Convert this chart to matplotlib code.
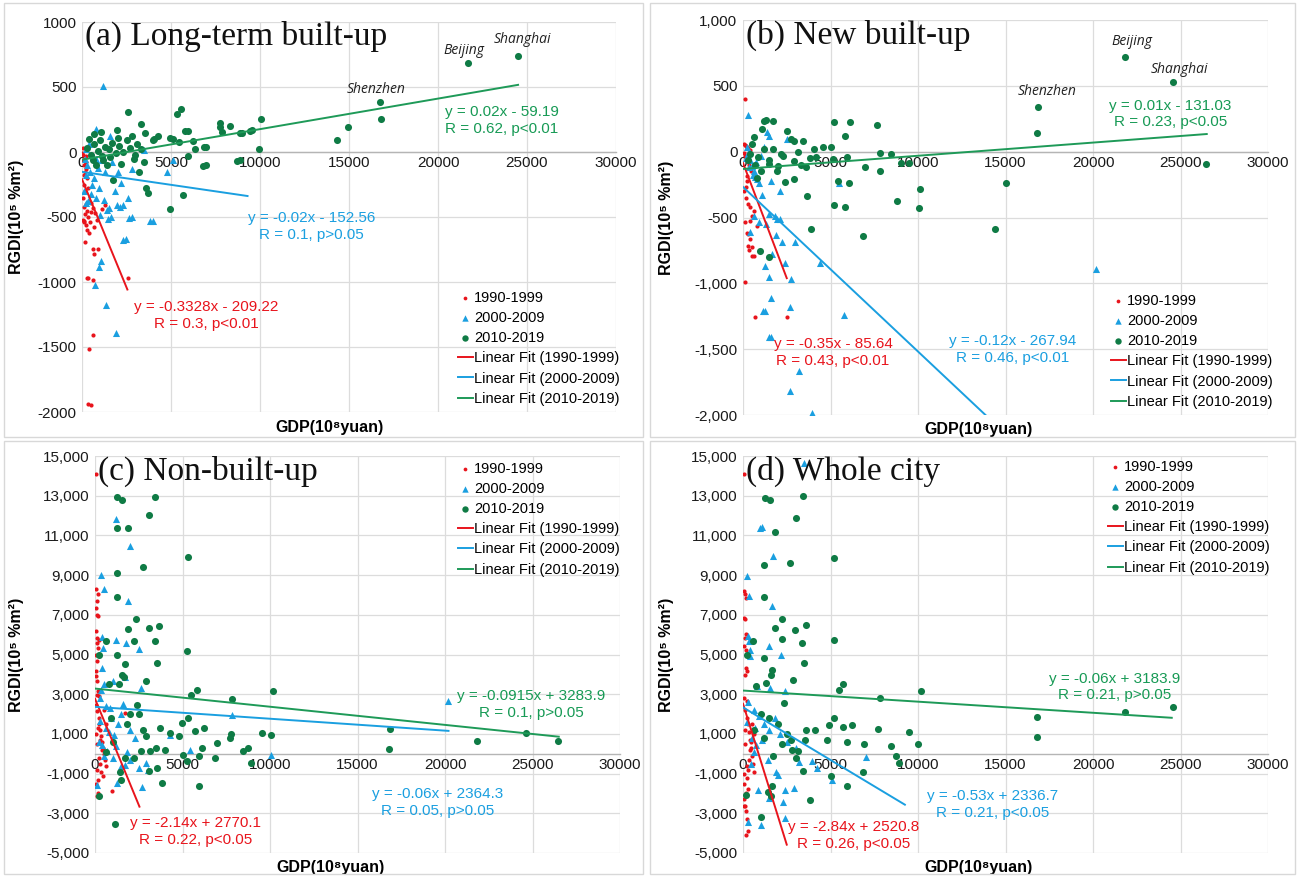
import matplotlib
matplotlib.use("Agg")
import matplotlib.pyplot as plt
from matplotlib.ticker import FuncFormatter
from matplotlib.patches import Rectangle

plt.rcParams['font.family'] = ['Liberation Sans', 'DejaVu Sans']

# ---------------- data ----------------
periods = ["1990-1999", "2000-2009", "2010-2019"]
fit_labels = ["Linear Fit (1990-1999)", "Linear Fit (2000-2009)", "Linear Fit (2010-2019)"]
titles = ["(a) Long-term built-up", "(b) New built-up", "(c) Non-built-up", "(d) Whole city"]

# Panel a: long-term built-up
a_red_x = [20,40,50,80,90,120,150,200,220,250,300,100,180,350,60,250,400,120,300,500,150,350,600,80,450,200,650,300,100,750,1290,1100,400,169,635,916,674,264,354,635,2600,601,410,354,489,112,500,850]
a_red_y = [-5,30,-20,-60,-180,-100,-150,-30,-130,-80,-200,-250,-300,-280,-350,-400,-380,-420,-450,-460,-480,-500,-430,-520,-540,-560,-580,-600,-540,-470,-409,-440,-620,-695,-745,-745,-788,-973,-968,-985,-970,-1407,-1516,-1938,-1943,-528,-390,-520]
a_blue_x = [1200,744,1047,930,1350,1930,2280,2630,3840,2560,1980,1400,1465,2210,1860,1230,930,350,230,814,5120,3490,2790,814,1011,1630,2136,2323,1500,2473,4007,2790,150,300,450,600,200,700,900,1100,400,1300,550,250,100,800,1700,2000,1600,500,4800]
a_blue_y = [505,-1025,-835,-885,-1176,-1391,-678,-506,-531,-354,-405,-443,-519,-240,-303,-367,-278,-380,-392,-354,-63,13,-134,177,-485,-503,-422,-409,-430,-669,-528,-498,-50,-100,-150,-30,20,-200,-120,-60,60,-150,-250,-180,-300,-50,-80,-150,120,-320,-150]
a_green_x = [24500,21700,16750,16800,14950,14300,10070,9930,9420,8860,8700,8330,7740,7740,7840,6860,6790,5930,5930,5700,5550,5310,4950,5120,5470,4070,3720,3610,3330,2600,1980,1050,700,1400,1740,4000,3530,4280,4970,5800,6250,6340,6990,9010,9560,6960,8860,300,500,700,900,1100,1300,1500,1700,1900,2100,2300,2500,2700,2900,3100,3300,3500,600,1000,1600,2200,400,800,1200,2000,2800,3000,3200]
a_green_y = [741,683,385,253,192,91,253,25,164,144,-71,202,223,190,152,38,-109,164,-30,-329,329,291,-435,101,76,101,-316,-278,215,306,172,152,139,-101,-215,96,147,121,109,164,83,20,38,147,167,-101,-63,30,-20,60,10,-30,40,20,70,-10,50,0,90,30,-50,60,20,-80,-60,90,-40,-90,100,-100,-60,110,120,-20,-150]

# Panel b: new built-up
b_red_x = [95,60,95,710,2490,300,520,290,365,235,137,420,520,800,95,235,160,300,400,235,165,280,400,280,400,520,640,60,120,200,350,450,30,180,250,600]
b_red_y = [400,60,-992,-1252,-1252,-80,-789,-713,-746,-620,-537,-422,-486,-562,53,33,40,25,10,-182,-270,-397,-524,-625,-664,-726,-789,-10,-30,-60,-100,-150,-300,-350,-220,-450]
b_blue_x = [20190,3960,2700,3200,1470,1620,5750,1130,1240,2710,1620,1510,2770,1240,2380,1660,4420,2950,2230,1890,420,1320,900,610,1470,1950,280,1380,1470,1180,230,300,400,500,600,700,800,900,2520,1620,2140,5470,1850,2140,150,350,550,750,1000,1100]
b_blue_y = [-890,-1984,-1814,-1667,-1409,-1409,-1237,-1207,-1207,-1181,-1114,-949,-966,-865,-845,-777,-845,-688,-683,-632,-607,-549,-537,-486,-473,-511,279,146,121,33,33,-10,-60,-110,-150,-190,-210,-240,96,-220,-296,-238,-486,-508,-50,-120,-180,-80,-30,-330]
b_green_x = [21850,24570,16870,16820,26470,15020,14410,10120,10050,8820,9480,9000,8460,7800,7800,7680,6990,6870,6090,5800,6040,5800,5210,5210,5450,5970,5140,5020,3890,3650,3440,2890,2540,2770,1710,1180,1300,950,1470,1110,2890,2420,1940,880,1710,2180,3130,4080,520,3600,4190,1470,400,2890,640,4550,300,700,1000,1500,2000,2300,3300,3800,1200,800]
b_green_y = [716,526,342,139,-94,-240,-590,-283,-428,-372,-89,-89,-18,-13,-144,202,-119,-640,223,121,-240,-417,-402,223,-220,-43,-56,33,-587,-334,83,83,159,96,235,235,240,-751,-802,172,-207,-233,-144,-43,20,-18,-5,20,58,-119,-43,-94,-18,-68,109,33,-60,-100,-150,-60,-110,-30,-100,-50,20,-200]

# Panel c: non-built-up
c_red_x = [50,60,170,120,40,100,170,60,120,200,100,160,50,130,70,40,140,180,90,250,1710,950,150,120,160,50,100,200,250,300,350,400,450,500,550,600,80,140,220,280,330,380,440,30,110,190,260,520,650]
c_red_y = [14080,8280,8030,7690,7350,7000,6950,6180,5840,5750,5580,5340,5000,4660,4160,3910,3660,3150,2980,2900,2030,-1860,-1980,-2140,-1300,2480,2140,1800,1500,1200,900,600,300,0,-300,-600,1000,500,-200,-500,-900,200,-1100,-1500,-800,1300,700,2200,1500]
c_blue_x = [20190,7820,10050,5430,1180,2010,330,520,1870,2490,1780,1180,400,470,400,1000,520,2650,1710,880,1470,280,640,1110,400,710,1000,1230,2700,120,1710,1990,2890,4310,300,600,900,1300,1600,2000,2300,200,500,800,1200,1500,1800,2500,3000,350]
c_blue_y = [2650,1970,-40,210,11840,10460,9000,8280,7690,5300,5590,5710,5870,5340,4330,3650,3490,3320,3860,2310,1980,1640,1300,960,460,130,-210,-1470,-1690,-1550,-550,-290,-460,960,2800,2400,1800,1500,2500,1200,800,600,-100,1100,400,-600,100,-700,-800,3200]
c_green_x = [1280,1540,3440,3060,1230,1900,5310,2730,1280,1230,2350,3060,3670,1900,2250,3410,640,240,1230,5260,3550,1710,1520,1660,2940,810,1350,5800,5500,10190,7820,16870,16820,21850,24640,26470,9530,10070,8770,8480,7750,7700,6990,6870,6090,6210,5730,5970,5260,5020,4950,5310,4790,4270,3720,4000,3480,3550,3840,3060,3130,2770,2890,2650,2540,2420,5970,1160,240,1470,1710,8930,1000,1800,2000,2200,600,900,1400]
c_green_y = [12950,12760,12950,12030,11390,11350,9910,9400,9120,7910,6770,6340,6430,6260,5670,5670,5670,4970,5000,5170,4580,4500,3990,3860,3690,3490,3520,3200,2980,3150,2780,1250,260,660,1050,630,1050,920,290,160,970,800,550,-210,290,1300,1130,-130,-380,-40,1550,1810,880,1050,1300,210,290,-710,-1470,-850,140,1220,880,140,1980,2480,-1640,-3540,-2140,-1300,-210,-460,600,1500,2000,-200,100,1800,-900]

# Panel d: whole city
d_red_x = [30,40,100,170,60,140,150,100,80,160,170,220,120,60,200,100,250,300,350,400,450,500,550,600,170,280,50,120,30,80,150,200,260,320,380,440,90,130,210,270,60,180,240,500,650]
d_red_y = [14080,8190,8030,7860,6850,6770,6010,5840,5420,5250,4330,4160,3990,2820,2650,2200,1800,1500,1100,700,300,-100,-500,-900,-4080,-3900,-2650,-2650,-1000,-1500,-2000,-1200,-800,-300,200,600,1200,500,-600,-1800,-2300,-2900,-3300,1500,1000]
d_blue_x = [3480,950,1110,1710,240,360,1660,1470,2180,280,360,400,400,810,1540,2420,7040,5070,3960,1990,830,1470,2420,2890,2300,2420,1000,280,520,760,300,600,900,1200,1500,1800,2100,2500,3000,700,1100,1400,4200,200,450,650,1900,3200]
d_blue_y = [14660,11390,11420,9960,8950,7940,7440,5420,5000,5920,5670,5250,4910,3400,3290,3150,-180,-1300,-380,-1050,-1810,-2230,-1810,-1720,-2440,-3240,-3570,-3440,800,460,2600,2200,1900,1500,1200,1800,1000,600,300,1300,700,-300,-700,1600,-500,100,-900,-400]
d_green_x = [3440,1280,1540,3010,1820,1180,2700,5190,1180,2250,2990,3600,1820,2230,3360,5190,590,240,1180,3480,1660,1590,2840,760,1300,5500,5730,10170,7800,2320,16820,16800,21850,24570,9480,10000,8460,8770,8930,7700,6920,6850,5970,5920,6210,5730,5190,4900,4790,5020,3840,3440,3550,3600,4120,3130,2770,1710,1660,1420,1590,170,1040,2000,2500,1000,1500,2200,2800,600,1200,3000]
d_green_y = [12980,12900,12780,11860,11180,9500,9620,9840,7910,6770,6210,6480,6310,5760,5590,5710,5670,5000,4830,4550,4240,3990,3740,3400,3570,3230,3490,3150,2820,2560,1870,830,2080,2340,1100,510,380,-130,-460,1250,500,-920,-1640,600,1440,1330,1810,1470,710,-1130,-2340,-880,710,1180,1180,140,710,-130,-1640,-1930,-2140,-2060,-3180,1500,1000,2000,1800,500,200,1200,800,-200]

# Linear fits as drawn: slope, intercept, x end (per panel: red, blue, green)
fit_slopes = [[-0.3328, -0.02, 0.0235], [-0.35, -0.125, 0.01], [-2.14, -0.06, -0.0915], [-2.84, -0.53, -0.056]]
fit_intercepts = [[-209.22, -152.56, -59.19], [-85.64, -267.94, -131.03], [2770.1, 2364.3, 3283.9], [2520.8, 2336.7, 3183.9]]
fit_xend = [[2550, 9300, 24500], [2500, 16000, 26500], [2540, 20200, 26500], [2500, 9250, 24500]]
eq_texts = [
    ["y = -0.3328x - 209.22\nR = 0.3, p<0.01", "y = -0.02x - 152.56\nR = 0.1, p>0.05", "y = 0.02x - 59.19\nR = 0.62, p<0.01"],
    ["y = -0.35x - 85.64\nR = 0.43, p<0.01", "y = -0.12x - 267.94\nR = 0.46, p<0.01", "y = 0.01x - 131.03\nR = 0.23, p<0.05"],
    ["y = -2.14x + 2770.1\nR = 0.22, p<0.05", "y = -0.06x + 2364.3\nR = 0.05, p>0.05", "y = -0.0915x + 3283.9\nR = 0.1, p>0.05"],
    ["y = -2.84x + 2520.8\nR = 0.26, p<0.05", "y = -0.53x + 2336.7\nR = 0.21, p<0.05", "y = -0.06x + 3183.9\nR = 0.21, p>0.05"],
]
eq_pos = [
    [(6980, -1260), (12900, -573), (23600, 243)],
    [(5140, -1523), (15400, -1505), (24410, 286)],
    [(5740, -3930), (19600, -2470), (24930, 2480)],
    [(6330, -4100), (14270, -2560), (21260, 3360)],
]
city_names = ["Shanghai", "Beijing", "Shenzhen"]
city_pos = [[(24770, 865), (21470, 784), (16510, 481)],
            [(24930, 622), (22200, 837), (17400, 455)]]

ylims = [(-2000, 1000), (-2000, 1000), (-5000, 15000), (-5000, 15000)]
ysteps = [500, 500, 2000, 2000]
comma = [False, True, True, True]

# ---------------- style ----------------
RED = "#E8141C"
BLUE = "#1A9FE0"
GREEN_PT = "#0F7B45"
GREEN_LN = "#1E9A58"
GREEN_TX = "#179A55"

W, H = 1298, 877
fig = plt.figure(figsize=(W / 100, H / 100), dpi=100)

def frac(l, t, r, b):
    return [l / W, 1 - b / H, (r - l) / W, (b - t) / H]

axes_px = [(82, 22, 616, 412), (743, 20, 1268, 415), (95, 456, 620, 853), (743, 456, 1268, 853)]
legend_anchor = [(458, 291), (1111, 294), (458, 462), (1108, 460)]
ylab_x = [-0.109, -0.131, -0.135, -0.131]
xlab_pos = [(0.464, -0.02), (0.448, -0.018), (0.448, -0.018), (0.448, -0.018)]

# panel frames
for (l, t, r, b) in [(4, 3, 643, 437), (650, 3, 1295, 437), (4, 441, 643, 874), (650, 441, 1295, 874)]:
    fig.patches.append(Rectangle((l / W, 1 - b / H), (r - l) / W, (b - t) / H,
                                 transform=fig.transFigure, fill=False,
                                 edgecolor="#d8d8d8", lw=1.0))

data = [
    (a_red_x, a_red_y, a_blue_x, a_blue_y, a_green_x, a_green_y),
    (b_red_x, b_red_y, b_blue_x, b_blue_y, b_green_x, b_green_y),
    (c_red_x, c_red_y, c_blue_x, c_blue_y, c_green_x, c_green_y),
    (d_red_x, d_red_y, d_blue_x, d_blue_y, d_green_x, d_green_y),
]

for i in range(4):
    ax = fig.add_axes(frac(*axes_px[i]))
    rx, ry, bx, by, gx, gy = data[i]
    lo, hi = ylims[i]
    ax.set_xlim(0, 30000)
    ax.set_ylim(lo, hi)
    ax.set_xticks(range(0, 30001, 5000))
    ax.set_yticks(range(lo, hi + 1, ysteps[i]))
    if comma[i]:
        ax.yaxis.set_major_formatter(FuncFormatter(lambda v, p: f"{int(v):,}"))
    else:
        ax.yaxis.set_major_formatter(FuncFormatter(lambda v, p: f"{int(v)}"))
    ax.grid(True, color="#dcdcdc", lw=0.9)
    ax.set_axisbelow(True)
    for s in ["top", "right", "left"]:
        ax.spines[s].set_visible(False)
    ax.spines["bottom"].set_position(("data", 0))
    ax.spines["bottom"].set_color("#b5b5b5")
    ax.spines["bottom"].set_linewidth(1.0)
    ax.tick_params(length=0, labelsize=11, colors="#1a1a1a")
    ax.tick_params(axis="x", pad=3)
    ax.tick_params(axis="y", pad=4)

    s_red = ax.scatter(rx, ry, s=9, marker="o", color=RED, linewidths=0, zorder=3)
    s_blue = ax.scatter(bx, by, s=26, marker="^", color=BLUE, linewidths=0, zorder=3)
    s_green = ax.scatter(gx, gy, s=26, marker="o", color=GREEN_PT, linewidths=0, zorder=3)

    lines = []
    for k, col in enumerate([RED, BLUE, GREEN_LN]):
        xs = [0, fit_xend[i][k]]
        ys = [fit_intercepts[i][k] + fit_slopes[i][k] * x for x in xs]
        ln, = ax.plot(xs, ys, color=col, lw=1.4, zorder=4)
        lines.append(ln)

    for k, col in enumerate([RED, BLUE, GREEN_TX]):
        px, py = eq_pos[i][k]
        ax.text(px, py, eq_texts[i][k], color=col, fontsize=11, ha="center",
                va="center", linespacing=1.25, zorder=5)

    if i < 2:
        for name, (px, py) in zip(city_names, city_pos[i]):
            ax.text(px, py, name, fontsize=10, style="italic", color="#222222",
                    ha="center", va="center", family=["Open Sans", "DejaVu Sans"])

    ax.text(0.006, 0.962, titles[i], transform=ax.transAxes,
            family=["Liberation Serif", "DejaVu Serif"], fontsize=24,
            ha="left", va="center", color="#111111", zorder=6)

    ax.set_ylabel("RGDI(10⁵ %m²)", fontsize=11.5, fontweight="bold")
    ax.yaxis.set_label_coords(ylab_x[i], 0.5)
    ax.set_xlabel("GDP(10⁸yuan)", fontsize=11.5, fontweight="bold")
    ax.xaxis.set_label_coords(*xlab_pos[i])

    lx, ly = legend_anchor[i]
    ax.legend([s_red, s_blue, s_green] + lines, periods + fit_labels,
              loc="upper left", bbox_to_anchor=(lx / W, 1 - ly / H),
              bbox_transform=fig.transFigure, frameon=False, fontsize=10.5,
              handlelength=1.0, handletextpad=0.1, labelspacing=0.42,
              borderpad=0, borderaxespad=0, markerscale=0.9)

fig.savefig("out.png", dpi=100, facecolor="white")
